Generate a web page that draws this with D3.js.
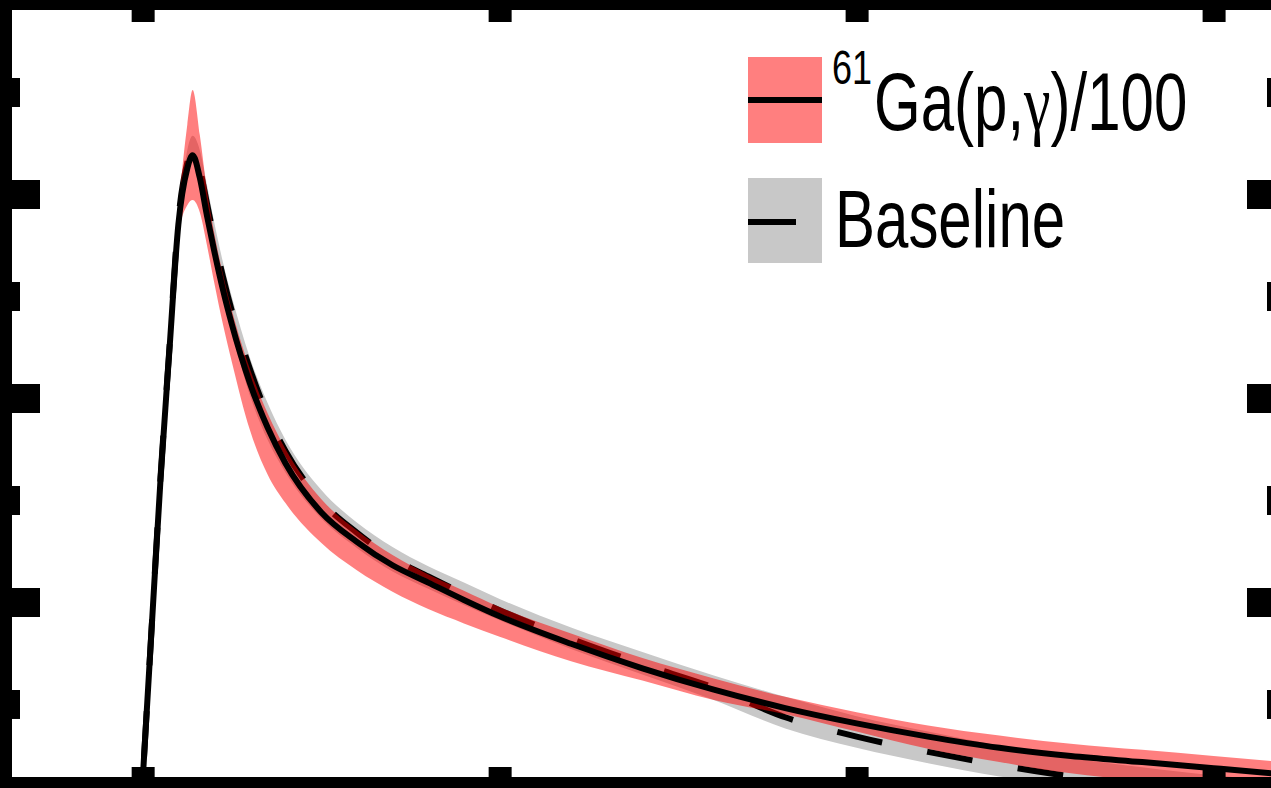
<!DOCTYPE html>
<html>
<head>
<meta charset="utf-8">
<script src="https://cdn.jsdelivr.net/npm/d3@7"></script>
<style>
  body { margin: 0; background: #fff; }
  svg { display: block; }
  .legend-text { font-family: 'Liberation Sans', Arial, sans-serif; fill: #000; }
</style>
</head>
<body>
<div id="chart"></div>
<script>
// time grid (x values) shared by every series
const timeGrid = [0, 0.25, 0.5, 0.75, 1.0, 1.25, 1.4, 1.6, 1.8, 2.0, 2.25, 2.5, 3, 3.5, 4, 5, 6, 7, 8, 9, 10,
  12, 14, 16, 18, 20, 22, 24, 26, 28, 30, 32]

// 61Ga(p,g)/100 run: central line and band
const gaLine = [0.25, 1.73, 3.20, 4.47, 5.70, 6.25, 6.38, 6.16, 5.79, 5.45, 5.06, 4.72, 4.15, 3.71, 3.36, 2.88, 2.59,
  2.36, 2.19, 2.02, 1.86, 1.59, 1.35, 1.14, 0.96, 0.81, 0.68, 0.57, 0.49, 0.43, 0.37, 0.31]
const gaHigh = [0.26, 1.76, 3.25, 4.54, 5.82, 6.68, 7.02, 6.58, 6.04, 5.63, 5.21, 4.86, 4.29, 3.85, 3.50, 3.01, 2.70,
  2.46, 2.27, 2.11, 1.95, 1.69, 1.45, 1.25, 1.07, 0.92, 0.79, 0.69, 0.61, 0.55, 0.49, 0.43]
const gaLow = [0.24, 1.69, 3.14, 4.41, 5.60, 5.89, 5.94, 5.82, 5.50, 5.14, 4.72, 4.35, 3.69, 3.25, 2.97, 2.58, 2.31,
  2.10, 1.93, 1.79, 1.66, 1.42, 1.23, 1.04, 0.90, 0.73, 0.56, 0.43, 0.32, 0.25, 0.21, 0.18]

// Baseline run: dashed line and band
const baseLine = [0.25, 1.74, 3.22, 4.49, 5.75, 6.31, 6.46, 6.25, 5.91, 5.57, 5.19, 4.85, 4.29, 3.83, 3.48, 2.99, 2.68,
  2.43, 2.25, 2.08, 1.92, 1.64, 1.39, 1.16, 0.87, 0.68, 0.53, 0.40, 0.29, 0.21, 0.11, 0.03]
const baseHigh = [0.25, 1.75, 3.22, 4.51, 5.73, 6.43, 6.57, 6.43, 6.09, 5.73, 5.33, 4.99, 4.40, 3.95, 3.59, 3.10, 2.78,
  2.54, 2.35, 2.19, 2.03, 1.75, 1.51, 1.28, 1.07, 0.88, 0.73, 0.59, 0.47, 0.38, 0.30, 0.25]
const baseLow = [0.24, 1.71, 3.16, 4.43, 5.63, 6.19, 6.31, 6.14, 5.75, 5.37, 4.98, 4.65, 4.03, 3.59, 3.27, 2.82, 2.53,
  2.30, 2.13, 1.97, 1.82, 1.54, 1.29, 1.04, 0.76, 0.57, 0.42, 0.29, 0.19, 0.10, 0.01, -0.06]

// ticks (no labels in this crop)
const xTicks = [0, 10, 20, 30]
const yMajorTicks = [2, 4, 6]
const yMinorTicks = [1, 3, 5, 7]
const xDomain = [-3.66, 31.72]
const yDomain = [0.284, 7.804]

const legendNames = ['Baseline']

const width = 1271
const height = 788
const plot = { left: 12, right: 1275, top: 10, bottom: 777 }

let svg = d3
  .select('#chart')
  .append('svg')
  .attr('width', width)
  .attr('height', height)

svg.append('rect').attr('width', width).attr('height', height).attr('fill', '#fff')

let x = d3.scaleLinear().domain(xDomain).range([plot.left, plot.right])
let y = d3.scaleLinear().domain(yDomain).range([plot.bottom, plot.top])

svg
  .append('clipPath')
  .attr('id', 'plotClip')
  .append('rect')
  .attr('x', plot.left)
  .attr('y', plot.top)
  .attr('width', plot.right - plot.left)
  .attr('height', plot.bottom - plot.top)

let rows = timeGrid.map((t, i) => {
  return {
    t: t,
    ga: gaLine[i],
    gaHi: gaHigh[i],
    gaLo: gaLow[i],
    base: baseLine[i],
    baseHi: baseHigh[i],
    baseLo: baseLow[i]
  }
})

let g = svg.append('g').attr('clip-path', 'url(#plotClip)')

const band = (hi, lo) =>
  d3
    .area()
    .x((d) => x(d.t))
    .y0((d) => y(d[lo]))
    .y1((d) => y(d[hi]))
    .curve(d3.curveMonotoneX)

const line = (key) =>
  d3
    .line()
    .x((d) => x(d.t))
    .y((d) => y(d[key]))
    .curve(d3.curveMonotoneX)

// baseline band + dashed line
g.append('path').datum(rows).attr('d', band('baseHi', 'baseLo')).attr('fill', '#c8c8c8')

let dashed = g
  .append('path')
  .datum(rows)
  .attr('d', line('base'))
  .attr('fill', 'none')
  .attr('stroke', '#000')
  .attr('stroke-width', 6)
  .attr('stroke-dasharray', '46, 46')

// line up the dash phase so that a dash starts near x = 750
let node = dashed.node()
let lo = 0
let hi = node.getTotalLength()
for (let k = 0; k < 40; k++) {
  let mid = (lo + hi) / 2
  if (node.getPointAtLength(mid).x < 750) lo = mid
  else hi = mid
}
dashed.attr('stroke-dashoffset', (92 - (lo % 92)) % 92)

// 61Ga band (translucent red) + solid line
g.append('path')
  .datum(rows)
  .attr('d', band('gaHi', 'gaLo'))
  .attr('fill', '#ff0000')
  .attr('fill-opacity', 0.5)

g.append('path')
  .datum(rows)
  .attr('d', line('ga'))
  .attr('fill', 'none')
  .attr('stroke', '#000')
  .attr('stroke-width', 6)
  .attr('stroke-linejoin', 'round')

// Axes ticks (inward)
function tickAxis(axis, pos, values, size, thick) {
  let a = svg
    .append('g')
    .attr('transform', pos)
    .call(axis.tickValues(values).tickSize(-size).tickFormat(''))
  a.select('.domain').remove()
  a.selectAll('.tick line').attr('stroke', '#000').attr('stroke-width', thick)
  a.selectAll('.tick text').remove()
}

tickAxis(d3.axisLeft(y), `translate(${plot.left},0)`, yMajorTicks, 28, 29)
tickAxis(d3.axisLeft(y), `translate(${plot.left},0)`, yMinorTicks, 8, 29)
tickAxis(d3.axisRight(y), `translate(${plot.right},0)`, yMajorTicks, 28, 29)
tickAxis(d3.axisRight(y), `translate(${plot.right},0)`, yMinorTicks, 8, 29)
tickAxis(d3.axisTop(x), `translate(0,${plot.top})`, xTicks, 12, 23)
tickAxis(d3.axisBottom(x), `translate(0,${plot.bottom})`, xTicks, 10, 23)

// Frame
svg
  .append('rect')
  .attr('x', plot.left - 6)
  .attr('y', plot.top - 6)
  .attr('width', plot.right - plot.left + 12)
  .attr('height', plot.bottom - plot.top + 12)
  .attr('fill', 'none')
  .attr('stroke', '#000')
  .attr('stroke-width', 12)

// Legend
let legend = svg.append('g').attr('id', 'legend')

legend.append('rect').attr('x', 748).attr('y', 57).attr('width', 74).attr('height', 86)
  .attr('fill', '#ff0000').attr('fill-opacity', 0.5)
legend.append('line').attr('x1', 748).attr('x2', 822).attr('y1', 100).attr('y2', 100)
  .attr('stroke', '#000').attr('stroke-width', 6)

legend.append('rect').attr('x', 748).attr('y', 178).attr('width', 74).attr('height', 85).attr('fill', '#c8c8c8')
legend.append('line').attr('x1', 748).attr('x2', 796).attr('y1', 222).attr('y2', 222)
  .attr('stroke', '#000').attr('stroke-width', 6)

let t1 = legend
  .append('text')
  .attr('class', 'legend-text')
  .attr('transform', 'translate(832,130) scale(1,1.35)')
t1.append('tspan').attr('font-size', 36).attr('dy', -34).text('61')
t1.append('tspan').attr('font-size', 60).attr('dy', 34).attr('dx', 2).text('Ga(p,')
t1.append('tspan').attr('font-size', 60).attr('font-family', "'Liberation Serif', serif").text('\u03b3')
t1.append('tspan').attr('font-size', 60).text(')/100')

legend
  .append('text')
  .attr('class', 'legend-text')
  .attr('transform', 'translate(835,247) scale(1,1.35)')
  .attr('font-size', 60)
  .text(legendNames[0])
</script>
</body>
</html>
